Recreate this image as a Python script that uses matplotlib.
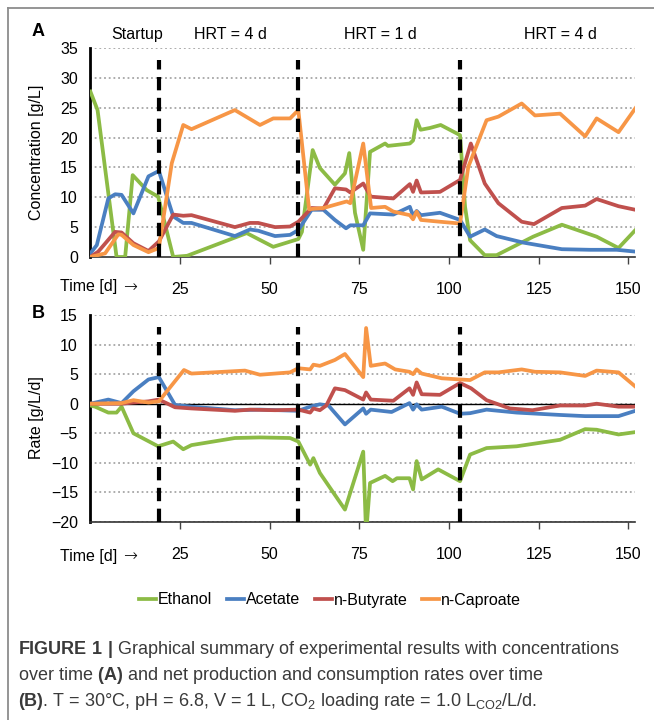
import matplotlib
matplotlib.use("Agg")
import matplotlib.pyplot as plt
from matplotlib.lines import Line2D

plt.rcParams['font.family'] = ['Liberation Sans', 'DejaVu Sans']
plt.rcParams['mathtext.fontset'] = 'custom'
plt.rcParams['mathtext.rm'] = 'Liberation Sans'
plt.rcParams['mathtext.bf'] = 'Liberation Sans:bold'

# --- panel A: concentrations [g/L] ---
eth_a_t = [0, 2, 7.3, 9.7, 11.8, 15.7, 18.9, 23.1, 27, 43.6, 51, 58, 59, 62, 64, 68.2, 71, 72.2, 73.8, 76.1, 78,
           82.2, 83, 89.1, 90, 91, 92.1, 94.7, 97.7, 103.1, 104.5, 105.9, 110, 113.3, 123.5, 131.5, 141.2, 147.3, 152]
eth_a = [27.7, 24.6, 0, 0, 13.7, 11.2, 10.1, 0, 0.2, 4.0, 1.7, 3.0, 4.2, 17.9, 14.9, 12.1, 14, 17.4, 7.4, 1.2, 17.6,
         19.0, 18.6, 19.0, 19.5, 22.9, 21.3, 21.6, 22.1, 20.4, 8.4, 2.8, 0.3, 0.3, 3.4, 5.4, 3.4, 1.5, 4.5]

ace_a_t = [0, 1.8, 5, 6.9, 8.7, 12, 16.2, 19.1, 23.1, 25.9, 28.2, 40.3, 44.5, 46.8, 51.5, 55.7, 58, 61.7, 65, 68.2,
           71.3, 72.5, 76.1, 78, 84.5, 89.1, 90, 91, 92.2, 97.5, 103.1, 105.9, 110, 113.3, 120.8, 131.5, 139.4,
           146.8, 152]
ace_a = [0.6, 2.0, 9.8, 10.5, 10.4, 7.3, 13.5, 14.4, 6.8, 5.7, 5.7, 3.5, 4.6, 4.4, 3.5, 3.7, 4.5, 7.9, 7.9, 6.2,
         4.8, 5.3, 5.3, 7.3, 7.1, 8.4, 6.9, 7.7, 7.0, 7.4, 6.2, 3.4, 4.6, 3.5, 2.4, 1.3, 1.2, 1.2, 0.9]

but_a_t = [0, 2.2, 6.9, 8.7, 12, 16.2, 19.1, 23.1, 25.9, 28.2, 40.3, 44.5, 46.8, 51.5, 55.7, 58, 61.7, 65, 68.2,
           71.3, 72.5, 76.1, 78.2, 84.5, 89.1, 90, 91, 92.2, 97.5, 103.1, 106.1, 110, 113.8, 120.3, 123.7, 131.5,
           138, 141.2, 147.3, 152]
but_a = [0, 0.9, 4.2, 4.1, 2.3, 1.0, 2.6, 7.1, 6.9, 7.0, 5.0, 5.7, 5.7, 5.0, 5.1, 5.9, 8.2, 8.1, 11.5, 11.3, 10.8,
         12.3, 10.1, 9.8, 12.2, 10.9, 12.8, 10.8, 10.9, 12.9, 19.0, 12.3, 9.0, 5.9, 5.5, 8.2, 8.6, 9.7, 8.5, 7.9]

cap_a_t = [0, 4.1, 7.8, 8.7, 12, 16.2, 19.1, 22.7, 25.9, 28.2, 40.3, 47.3, 51, 55.7, 58, 61, 65, 71.5, 72.5, 76.1,
           78.3, 82.2, 84.5, 89.1, 90, 91, 92.2, 97.5, 103.1, 105.4, 110.5, 113.8, 120.3, 124, 131, 138, 141.2,
           147.3, 152]
cap_a = [0, 0.6, 3.8, 3.7, 2.0, 0.8, 1.5, 15.7, 22.1, 21.4, 24.6, 22.1, 23.2, 23.2, 24.6, 8.0, 8.2, 9.3, 9.0, 19.0,
         8.2, 8.4, 7.6, 7.0, 6.3, 7.6, 6.2, 5.9, 5.6, 15.1, 22.9, 23.5, 25.7, 23.7, 24.0, 20.2, 23.2, 20.9, 24.9]

# --- panel B: rates [g/L/d] ---
eth_b_t = [0, 1.3, 5, 7.3, 8.7, 12, 18.9, 23.1, 25.9, 28.2, 40.3, 47.3, 55.7, 58, 61.3, 62.2, 64, 71, 76.1, 76.9,
           78, 82.2, 84.3, 85.5, 89, 90, 91, 92.4, 97, 103.1, 105.9, 110.5, 118.9, 131, 138, 141.2, 147.3, 152]
eth_b = [-0.3, -0.5, -1.5, -1.5, -0.5, -5.0, -7.2, -6.4, -7.7, -7.0, -5.8, -5.7, -5.8, -6.4, -10.3, -9.2, -11.7,
         -17.9, -8.1, -22, -13.4, -12.2, -13.1, -12.6, -12.6, -14.5, -9.7, -12.8, -11.1, -13.1, -8.6, -7.5, -7.2,
         -6.1, -4.3, -4.4, -5.2, -4.8]

ace_b_t = [0, 5, 8.7, 12, 16.2, 19.1, 23.6, 28.2, 40.3, 47.3, 58, 61.3, 64, 66.4, 71, 76.1, 76.9, 78.2, 84, 89,
           90, 91, 92.4, 98, 103.1, 105.9, 110.5, 118.9, 131, 138, 147.3, 152]
ace_b = [0, 0.7, 0.1, 2.1, 4.1, 4.5, -0.2, -0.5, -1.1, -1.0, -1.2, -0.5, -0.1, -0.3, -3.5, -0.8, -1.7, -1.0,
         -1.4, 0.1, -1.0, -0.1, -1.0, -0.5, -1.7, -1.6, -1.0, -1.5, -1.9, -2.1, -2.1, -1.2]

but_b_t = [0, 8.7, 12, 16.2, 19.1, 21.2, 23.6, 28.2, 40.3, 44.5, 51.5, 58, 61.3, 62.2, 64, 65.8, 68.2, 71, 76.1,
           76.9, 78.2, 84.5, 89, 90, 91, 92.4, 97.5, 103.1, 106.2, 110.5, 117, 123.3, 131, 138, 141.2, 147.3, 152]
but_b = [0, 0, 0.2, 0.4, 0.7, 0.1, -0.6, -0.8, -1.2, -1.0, -1.1, -1.0, -1.5, -0.8, -1.1, -0.3, 2.6, 2.3, 0.7,
         1.9, 0.7, 0.5, 2.6, 1.5, 3.6, 1.6, 1.5, 3.5, 2.6, 0.6, -0.8, -1.1, -0.3, -0.3, 0, -0.5, -0.5]

cap_b_t = [0, 8.7, 12, 16.2, 19.1, 26.1, 28.2, 43.1, 47.3, 55.7, 58, 61.3, 62.2, 64, 68.2, 71, 76.1, 76.9, 78.2,
           82.2, 85, 89, 90, 91, 92.4, 98, 103.1, 105.9, 110, 113.8, 120.3, 124, 131, 138, 141.2, 147.3, 152]
cap_b = [0, 0.1, 0.6, 0.2, 0.4, 5.7, 5.1, 5.6, 4.9, 5.3, 6.0, 5.8, 6.6, 6.4, 7.4, 8.4, 4.5, 12.8, 6.4, 6.8, 5.8,
         5.4, 5.0, 5.8, 5.1, 4.3, 4.1, 4.0, 5.3, 5.3, 5.8, 5.4, 5.3, 4.7, 5.6, 5.3, 2.9]

names = ["Ethanol", "Acetate", "n-Butyrate", "n-Caproate"]
colors = ["#8cbb45", "#4a7fc1", "#c0504d", "#f79646"]
phase_days = [19, 58, 103]
phase_labels = ["Startup", "HRT = 4 d", "HRT = 1 d", "HRT = 4 d"]
phase_label_x = [13, 39, 81, 131]
xticks = [25, 50, 75, 100, 125, 150]

fig = plt.figure(figsize=(6.54, 7.2), dpi=100)
axA = fig.add_axes([0.1382, 0.6431, 0.8333, 0.2903])
axB = fig.add_axes([0.1382, 0.2750, 0.8333, 0.2875])

seriesA = [(eth_a_t, eth_a), (ace_a_t, ace_a), (but_a_t, but_a), (cap_a_t, cap_a)]
seriesB = [(eth_b_t, eth_b), (ace_b_t, ace_b), (but_b_t, but_b), (cap_b_t, cap_b)]

for ax, series, ylim, yt, dash_top in [(axA, seriesA, (0, 35), range(0, 36, 5), 33),
                                       (axB, seriesB, (-20, 15), range(-20, 16, 5), 13)]:
    for yv in yt:
        if yv != 0 or ax is axB:
            ax.axhline(yv, color="#a6a6a6", lw=1.3, ls=(0, (1, 1.6)), zorder=1)
    if ax is axB:
        ax.axhline(0, color="black", lw=1, zorder=2)
    for (t, v), c, n in zip(series, colors, names):
        ax.plot(t, v, color=c, lw=2.7, label=n, zorder=3, solid_joinstyle="round")
    for d in phase_days:
        ax.plot([d, d], [ylim[0], dash_top], color="black", lw=3, dashes=(3.2, 1.8), zorder=5,
                solid_capstyle="butt", dash_capstyle="butt")
    ax.set_xlim(0, 152)
    ax.set_ylim(*ylim)
    ax.set_yticks(list(yt))
    ax.set_xticks(xticks)
    ax.tick_params(axis="y", length=0, pad=9, labelsize=11.5)
    ax.tick_params(axis="x", direction="out", length=5, width=1, color="#444444", pad=13, labelsize=11.5)
    for s in ["top", "right"]:
        ax.spines[s].set_visible(False)
    ax.spines["left"].set_linewidth(2)
    ax.spines["bottom"].set_color("#333333")
    ax.spines["bottom"].set_linewidth(1.2)

axA.set_zorder(2)

# text annotations
fig.text(38 / 654, 1 - 31 / 720, "A", fontsize=13, fontweight="bold", ha="center", va="center")
fig.text(38 / 654, 1 - 314 / 720, "B", fontsize=13, fontweight="bold", ha="center", va="center")
for lab, xd in zip(phase_labels, phase_label_x):
    axA.text(xd, 1.03, lab, transform=axA.get_xaxis_transform(), ha="center", va="bottom", fontsize=11.5)
fig.text(37 / 654, 1 - 152 / 720, "Concentration [g/L]", rotation=90, ha="center", va="center", fontsize=11.5)
fig.text(37 / 654, 1 - 418 / 720, "Rate [g/L/d]", rotation=90, ha="center", va="center", fontsize=11.5)
for yp in [287, 556]:
    fig.text(60 / 654, 1 - yp / 720, "Time [d]", ha="left", va="center", fontsize=11.5)
    fig.text(123 / 654, 1 - yp / 720, "\u2192", ha="left", va="center", fontsize=12,
             family=["DejaVu Sans"], fontweight="light")

fig.legend(*axA.get_legend_handles_labels(), loc="center", bbox_to_anchor=(330 / 654, 1 - 600 / 720),
           ncol=4, frameon=False, fontsize=11.5, handlelength=1.1, handletextpad=0.1, columnspacing=0.9)

cap_color = "#3a3a3a"
fig.text(18 / 654, 1 - 650 / 720, r"$\bf{FIGURE\ 1\ |}$ Graphical summary of experimental results with concentrations",
         fontsize=13, color=cap_color, ha="left", va="center")
fig.text(18 / 654, 1 - 676 / 720, r"over time $\bf{(A)}$ and net production and consumption rates over time",
         fontsize=13, color=cap_color, ha="left", va="center")
fig.text(18 / 654, 1 - 702 / 720,
         r"$\bf{(B)}$. T = 30°C, pH = 6.8, V = 1 L, CO$_2$ loading rate = 1.0 L$_{\mathrm{CO2}}$/L/d.",
         fontsize=13, color=cap_color, ha="left", va="center")

# frame around the figure
fig.add_artist(Line2D([8 / 654, 8 / 654], [0, 1 - 8 / 720], color="#8c8c8c", lw=1.3))
fig.add_artist(Line2D([8 / 654, 1], [1 - 8 / 720, 1 - 8 / 720], color="#8c8c8c", lw=1.3))

fig.savefig("out.png", dpi=100)
